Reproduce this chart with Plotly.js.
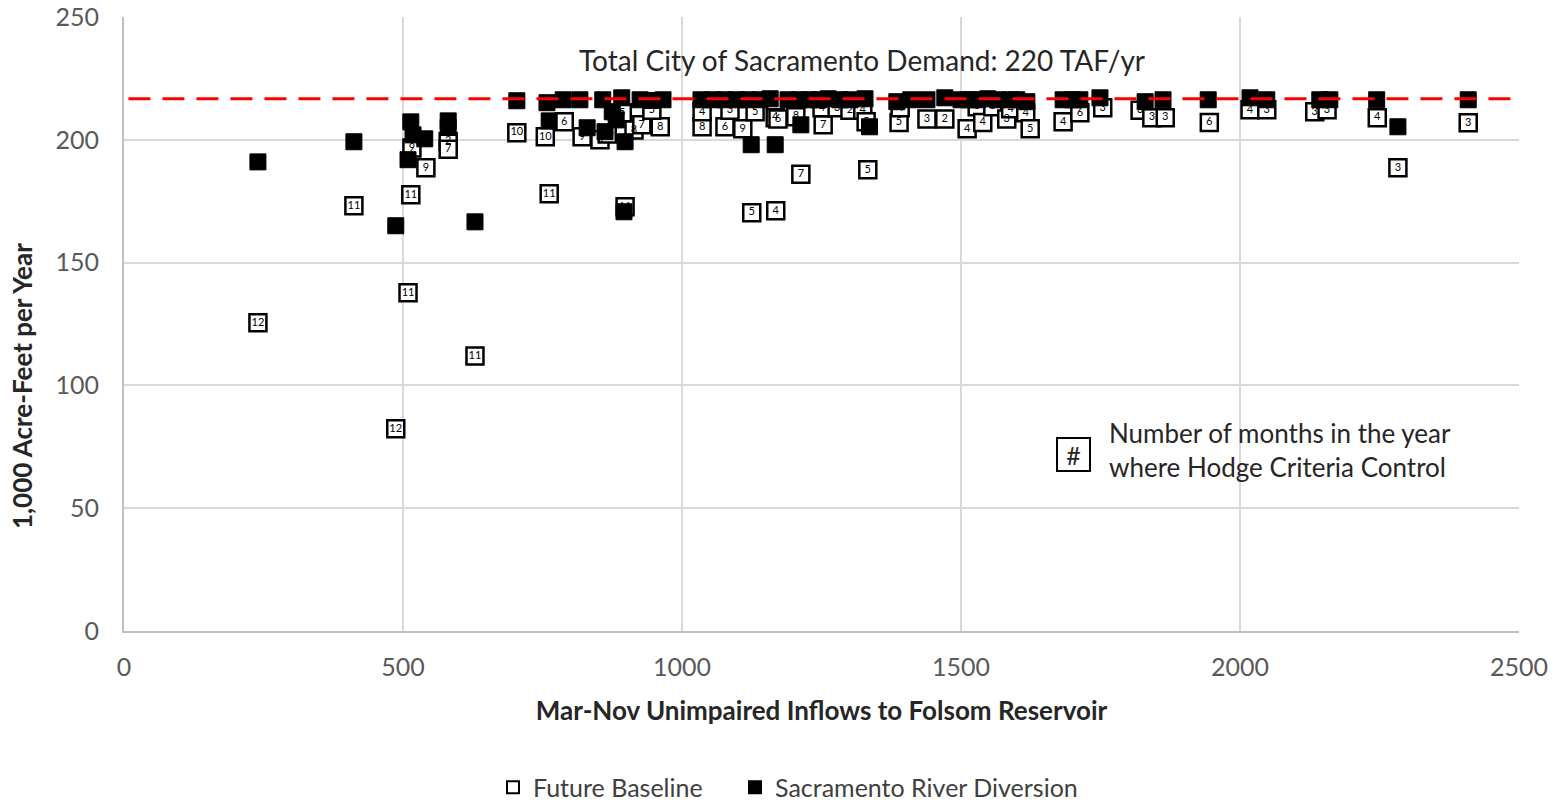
<!DOCTYPE html>
<html>
<head>
<meta charset="utf-8">
<script src="https://cdn.plot.ly/plotly-3.0.1.min.js"></script>
<style>html,body{margin:0;padding:0;background:#fff;}#chart{width:1561px;height:803px;}</style>
</head>
<body>
<div id="chart"></div>
<script>
// Future Baseline (open squares, label = number of months where Hodge Criteria control)
const baseX = [240,412,487,509,514,516,541,581,581,629,704,755,762,789,821,853,866,898,893,914,928,961,946,
  1036,1036,1077,1086,1109,1131,1125,1168,1213,1167,1172,1204,1253,1251,1278,1301,1324,1330,1333,
  1389,1391,1439,1471,1511,1529,1539,1557,1582,1589,1616,1624,1683,1713,1754,1821,1842,1866,1945,
  2018,2048,2134,2156,2246,2283,2409];
const baseY = [125.5,173.1,82.3,137.7,177.6,196.7,188.6,199.3,196.2,112.0,202.9,201.2,178.0,207.3,201.2,200.0,202.4,172.7,211.0,204.0,206.1,205.3,212.0,
  205.3,211.4,205.3,212.0,204.5,211.4,170.3,171.1,186.0,209.0,208.5,209.4,206.1,213.0,213.0,212.0,212.0,207.3,187.8,
  207.0,213.0,208.5,208.5,204.5,213.5,207.0,213.5,208.5,212.6,211.0,204.5,207.3,211.0,213.0,212.0,209.0,209.0,207.0,
  212.2,212.2,211.4,212.2,209.0,188.6,206.9];
const baseLabel = ["12","11","12","11","11","9","9","2","7","11","10","10","11","6","9","5","10","11","5","8","7","8","5",
  "8","4","6","3","9","5","5","4","7","4","6","8","7","4","3","2","4","5","5",
  "5","4","3","2","4","3","4","3","3","4","4","5","4","6","3","3","3","3","6",
  "4","3","3","3","4","3","3"];

// Sacramento River Diversion (filled squares)
const divX = [240,412,487,509,514,518,539,581,581,629,704,758,762,787,817,830,858,862,875,882,892,896,898,925,945,966,
  1034,1055,1077,1098,1118,1140,1158,1190,1210,1229,1245,1262,1283,1301,1328,1124,1167,1213,1336,
  1385,1410,1439,1471,1500,1516,1530,1548,1565,1588,1600,1618,1683,1700,1713,1749,
  1830,1862,1943,2018,2048,2143,2161,2245,2283,2409];
const divY = [191.0,199.2,165.0,191.9,207.3,202.0,200.4,207.7,205.0,166.6,215.9,215.1,207.7,216.3,216.3,204.9,216.3,203.3,211.4,208.1,217.1,170.7,199.2,216.3,216.0,216.3,
  216.3,216.3,216.3,216.3,216.3,216.3,216.7,216.3,216.3,216.3,216.3,216.7,216.3,216.3,216.7,198.0,198.0,206.1,205.3,
  215.5,216.3,216.3,217.1,216.3,216.3,216.3,216.7,216.3,216.3,216.3,215.5,216.3,216.3,216.3,217.1,
  215.5,216.3,216.3,217.1,216.3,216.3,216.3,216.3,205.3,216.3];

// Demand line as drawn on the chart
const demandLevel = 216.7;
const xTicks = [0,500,1000,1500,2000,2500];
const yTicks = [0,50,100,150,200,250];

const FONT = "Lato, 'Open Sans', sans-serif";

const traces = [
  {
    type: 'scatter', mode: 'markers', name: 'Future Baseline', legend: 'legend',
    x: baseX, y: baseY,
    marker: {symbol: 'square', size: 17, color: '#ffffff', line: {color: '#000000', width: 2.5}},
    hoverinfo: 'x+y'
  },
  {
    type: 'scatter', mode: 'markers', name: 'Sacramento River Diversion', legend: 'legend2',
    x: divX, y: divY,
    marker: {symbol: 'square', size: 16, color: '#000000', line: {color: '#000000', width: 1}},
    hoverinfo: 'x+y'
  },
  {
    type: 'scatter', mode: 'text', showlegend: false,
    x: baseX, y: baseY, text: baseLabel,
    textposition: 'middle center',
    textfont: {family: FONT, size: 11, color: '#000000'},
    hoverinfo: 'skip'
  }
];

const legendCommon = {
  orientation: 'h', y: -0.255, xanchor: 'left', yanchor: 'middle',
  font: {family: FONT, size: 25, color: '#404040'},
  itemsizing: 'constant', itemwidth: 30, bgcolor: 'rgba(0,0,0,0)'
};

const layout = {
  width: 1561, height: 803,
  margin: {l: 124, r: 42, t: 17, b: 172, autoexpand: false},
  paper_bgcolor: '#ffffff', plot_bgcolor: '#ffffff',
  font: {family: FONT, color: '#404040'},
  showlegend: true,
  legend: Object.assign({}, legendCommon, {x: 0.2645}),
  legend2: Object.assign({}, legendCommon, {x: 0.438}),
  xaxis: {
    range: [0, 2500], tickvals: xTicks, ticktext: xTicks.map(String),
    showgrid: true, gridcolor: '#d9d9d9', gridwidth: 2,
    zeroline: false, showline: true, linecolor: '#bfbfbf', linewidth: 2,
    ticks: '', ticklabelstandoff: 13,
    tickfont: {family: FONT, size: 25, color: '#595959'},
    title: {text: '<b>Mar-Nov Unimpaired Inflows to Folsom Reservoir</b>', standoff: 22,
            font: {family: FONT, size: 26, color: '#262626'}},
    automargin: false, fixedrange: true
  },
  yaxis: {
    range: [0, 250], tickvals: yTicks, ticktext: yTicks.map(String),
    showgrid: true, gridcolor: '#d9d9d9', gridwidth: 2,
    zeroline: false, showline: true, linecolor: '#bfbfbf', linewidth: 2,
    ticks: '', ticklabelstandoff: 18,
    tickfont: {family: FONT, size: 25, color: '#595959'},
    title: {text: ''},
    automargin: false, fixedrange: true
  },
  shapes: [
    {type: 'line', xref: 'x', yref: 'y', x0: 8, x1: 2500, y0: demandLevel, y1: demandLevel,
     line: {color: '#ff0000', width: 3, dash: '22px,12px'}, layer: 'above'}
  ],
  annotations: [
    {xref: 'paper', yref: 'paper', x: -0.0731, y: 0.399, xanchor: 'center', yanchor: 'middle',
     textangle: -90, showarrow: false,
     text: '<b>1,000 Acre-Feet per Year</b>', font: {family: FONT, size: 26, color: '#262626'}},
    {xref: 'x', yref: 'y', x: 1322, y: 232.6, showarrow: false,
     text: 'Total City of Sacramento Demand: 220 TAF/yr', font: {family: FONT, size: 28, color: '#262626'}},
    {xref: 'x', yref: 'y', x: 1702, y: 71.7, showarrow: false, text: '#',
     bordercolor: '#000000', borderwidth: 2, width: 29, height: 29,
     font: {family: FONT, size: 25, color: '#262626'}},
    {xref: 'x', yref: 'y', x: 1761, y: 73.7, xanchor: 'left', align: 'left', showarrow: false,
     text: 'Number of months in the year<br>where Hodge Criteria Control',
     font: {family: FONT, size: 26, color: '#262626'}}
  ]
};

Plotly.newPlot('chart', traces, layout, {displayModeBar: false, staticPlot: true});
</script>
</body>
</html>
